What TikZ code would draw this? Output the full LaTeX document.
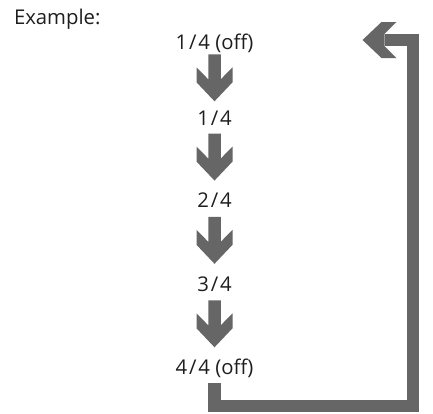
\documentclass[tikz,border=0pt]{standalone}
\usepackage{fontspec}
\setmainfont{Open Sans}
\usetikzlibrary{calc}
\definecolor{arrgray}{HTML}{666666}
\definecolor{txtcol}{HTML}{1E1E1E}
\newcommand\fsl{\kern1.8pt/\kern1.8pt}
\tikzset{
  lbl/.style={anchor=base, inner sep=0pt, text=txtcol, font=\fontsize{20.3}{24}\selectfont},
  bigarrow/.style={fill=arrgray, to path={
    let \p1=(\tikztostart.base), \p2=(\tikztotarget.base),
        \p3=($(\tikztostart.base)!0.5!(\tikztotarget.base)$) in
    (\x1-6.25pt,\y3+33pt) -- (\x1-6.25pt,\y3+8pt) -- (\x1-18pt,\y3+20pt) --
    (\x1-18pt,\y3+5pt) -- (\x1,\y3-14pt) -- (\x1+18pt,\y3+5pt) --
    (\x1+18pt,\y3+20pt) -- (\x1+6.25pt,\y3+8pt) -- (\x1+6.25pt,\y3+33pt) -- cycle}},
  retline/.style={draw=arrgray, line width=12.5pt, line join=miter, line cap=butt},
  rethead/.style={fill=arrgray}
}
\begin{document}
\begin{tikzpicture}[x=1pt,y=-1pt]
\useasboundingbox (0,0) rectangle (433,413);
\node[lbl, anchor=base west] (ex) at (13.8,24.5) {Example:};
\node[lbl] (n1) at (214.5,49.3) {1\fsl4 (off)};
\node[lbl] (n2) at (214.5,125.3) {1\fsl4};
\node[lbl] (n3) at (214.5,207.8) {2\fsl4};
\node[lbl] (n4) at (214.5,291.8) {3\fsl4};
\node[lbl] (n5) at (214.5,374.8) {4\fsl4 (off)};
\path[bigarrow] (n1) to (n2);
\path[bigarrow] (n2) to (n3);
\path[bigarrow] (n3) to (n4);
\path[bigarrow] (n4) to (n5);
\coordinate (rb) at (413,406);
\coordinate (rt) at (413,40);
\coordinate (rh) at (384.5,40);
\coordinate (ret) at (362.5,40);
\draw[retline] ([yshift=-8pt]n5.base) |- (rb) -- (rt) -- (rh);
\fill[rethead] (ret) -- ++(19,-18) -- ++(15,0) -- ++(-12,11.75) -- ++(0,12.5) -- ++(12,11.75) -- ++(-15,0) -- cycle;
\end{tikzpicture}
\end{document}
